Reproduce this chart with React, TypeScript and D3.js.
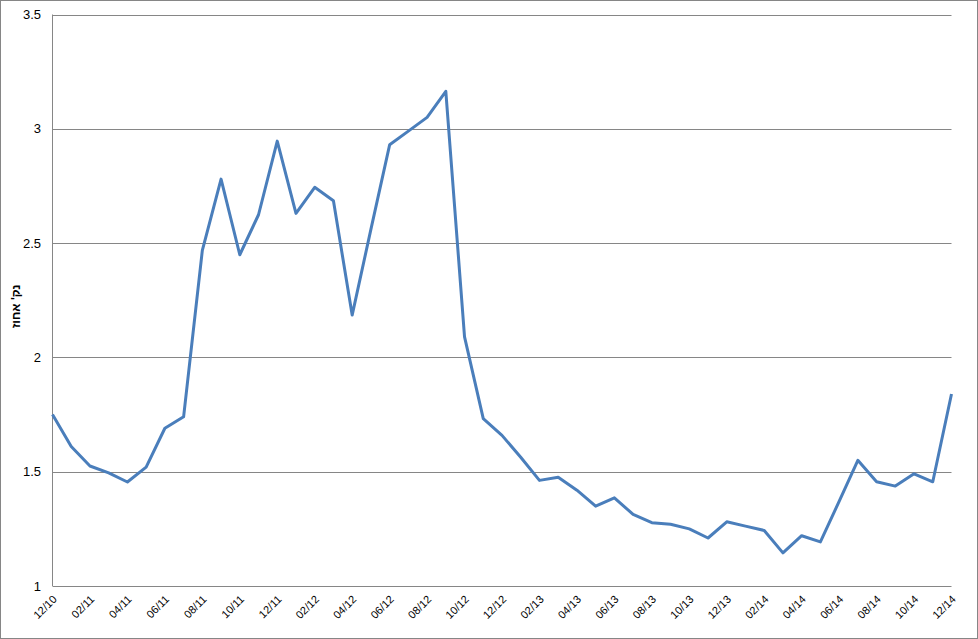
import React from "react";
import * as d3 from "d3";

const months: string[] = [
  "12/10","01/11","02/11","03/11","04/11","05/11","06/11","07/11","08/11","09/11","10/11","11/11",
  "12/11","01/12","02/12","03/12","04/12","05/12","06/12","07/12","08/12","09/12","10/12","11/12",
  "12/12","01/13","02/13","03/13","04/13","05/13","06/13","07/13","08/13","09/13","10/13","11/13",
  "12/13","01/14","02/14","03/14","04/14","05/14","06/14","07/14","08/14","09/14","10/14","11/14",
  "12/14",
];

const values: number[] = [
  1.75, 1.61, 1.525, 1.495, 1.455, 1.52, 1.69, 1.74, 2.468, 2.78, 2.449, 2.624,
  2.946, 2.63, 2.744, 2.685, 2.185, 2.56, 2.93, 2.99, 3.05, 3.164, 2.09, 1.732,
  1.659, 1.563, 1.462, 1.476, 1.419, 1.349, 1.386, 1.313, 1.277, 1.27, 1.25, 1.21,
  1.281, 1.262, 1.243, 1.145, 1.22, 1.193, 1.37, 1.55, 1.456, 1.437, 1.491, 1.456,
  1.84,
];

const yTicks: number[] = [1, 1.5, 2, 2.5, 3, 3.5];
const yTitle = "נק' אחוז";

export default function App() {
  const W = 978, H = 639;
  const left = 52.5, right = 951.5, top = 14.5, bottom = 586;
  const x = d3.scaleLinear().domain([0, months.length - 1]).range([left, right]);
  const y = d3.scaleLinear().domain([1, 3.5]).range([bottom, top]);
  const line = d3.line<number>().x((_, i) => x(i)).y((d) => y(d));
  const labelIdx = months.map((_, i) => i).filter((i) => i % 2 === 0);
  const gray = "#868686";
  return (
    <svg width={W} height={H} style={{ position: "absolute", left: 0, top: 0, fontFamily: "'Liberation Sans', Arial, sans-serif" }}>
      <rect x={0.5} y={0.5} width={W - 1} height={H - 1} fill="#fff" stroke={gray} strokeWidth={1} />
      {yTicks.map((t) => (
        <g key={t}>
          {t > 1 && <line x1={left} x2={right} y1={Math.round(y(t)) + 0.5} y2={Math.round(y(t)) + 0.5} stroke={gray} strokeWidth={1} />}
          <text x={41} y={y(t)} dy="0.35em" textAnchor="end" fontSize={13} fill="#000">{t}</text>
        </g>
      ))}
      <line x1={left} x2={left} y1={top} y2={bottom} stroke={gray} strokeWidth={1} />
      <line x1={left} x2={right} y1={bottom + 0.5} y2={bottom + 0.5} stroke={gray} strokeWidth={1} />
      <path d={line(values) || ""} fill="none" stroke="#4a7ebb" strokeWidth={3} strokeLinejoin="round" />
      {labelIdx.map((i) => (
        <text key={i} transform={`translate(${x(i) + 5},${bottom + 14}) rotate(-45)`} textAnchor="end" fontSize={11} fill="#000">
          {months[i]}
        </text>
      ))}
      <text transform={`translate(20,${(top + bottom) / 2 + 6}) rotate(-90)`} textAnchor="middle" fontSize={12} fontWeight="bold" fill="#000">
        {yTitle}
      </text>
    </svg>
  );
}
